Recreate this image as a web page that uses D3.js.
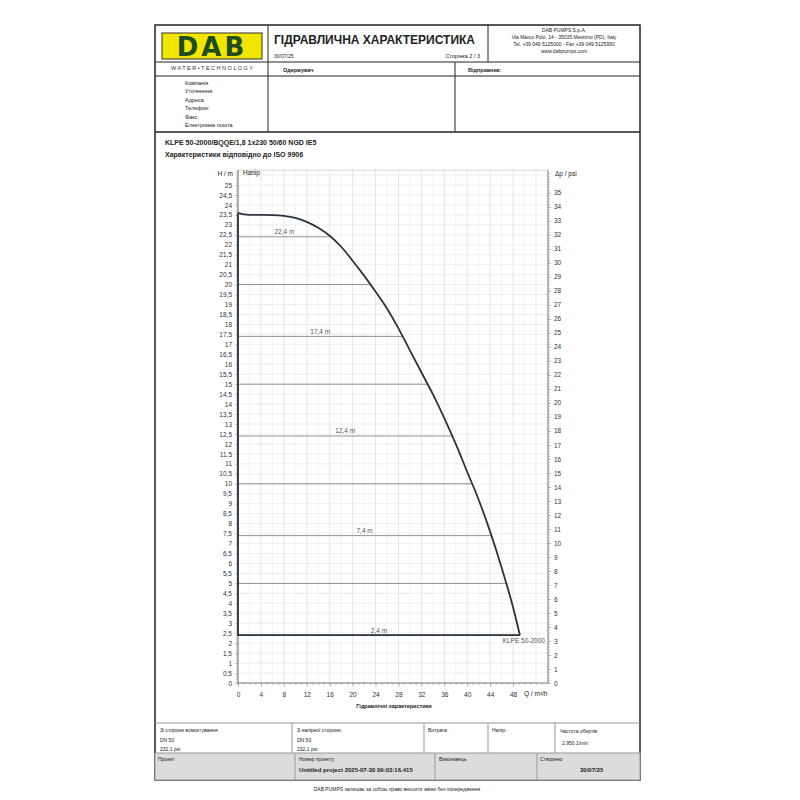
<!DOCTYPE html>
<html><head><meta charset="utf-8">
<script src="https://cdn.jsdelivr.net/npm/d3@7"></script>
<style>body{margin:0;background:#fff;font-family:'Liberation Sans',Arial,sans-serif}</style>
</head><body>
<script>
// curve: flow Q (m3/h) vs head H (m)
const curveQ = [0, 1, 2, 4, 6, 8, 10, 12, 14, 16, 18, 20, 22, 24, 26, 28, 30, 32, 34, 36, 38, 40, 42, 44, 46, 48, 49.2];
const curveH = [23.6, 23.52, 23.5, 23.5, 23.49, 23.45, 23.35, 23.15, 22.85, 22.45, 21.9, 21.2, 20.45, 19.65, 18.8, 17.8, 16.7, 15.6, 14.5, 13.3, 12.0, 10.6, 9.2, 7.6, 5.8, 3.8, 2.4];
const levelH = [22.4, 20, 17.4, 15, 12.4, 10, 7.4, 5, 2.4];
const levelQ = [16.2, 23.1, 28.7, 33.1, 37.4, 40.9, 44.2, 46.8, 49.2];
const levelLabel = ['22,4 m', '', '17,4 m', '', '12,4 m', '', '7,4 m', '', '2,4 m'];
const qTicks = d3.range(0, 49, 4);
const hTicks = d3.range(0, 25.01, 0.5);
const psiTicks = d3.range(0, 36, 1);

const svg = d3.select('body').append('svg').attr('width', 800).attr('height', 800);
const fmt = (v) => String(v).replace('.', ',');

// outer frame
const ink = '#222';
svg.append('rect').attr('x', 155).attr('y', 25).attr('width', 485).attr('height', 755)
  .attr('fill', 'none').attr('stroke', ink).attr('stroke-width', 1.5);
const line = (x1, y1, x2, y2, c = ink, w = 1) =>
  svg.append('line').attr('x1', x1).attr('y1', y1).attr('x2', x2).attr('y2', y2).attr('stroke', c).attr('stroke-width', w);
const text = (x, y, t, size = 6, opts = {}) =>
  svg.append('text').attr('x', x).attr('y', y).attr('font-size', size)
    .attr('font-weight', opts.bold ? 'bold' : null).attr('text-anchor', opts.anchor || 'start')
    .attr('fill', opts.fill || '#222').text(t);

// header
line(155, 62, 640, 62); line(155, 76, 640, 76); line(155, 132, 640, 132, ink, 1.5);
line(268, 25, 268, 132); line(488, 25, 488, 62); line(455, 62, 455, 132);
svg.append('rect').attr('x', 162).attr('y', 33).attr('width', 100).attr('height', 26).attr('fill', '#f2e600').attr('stroke', '#333');
text(212, 56, 'DAB', 26, { bold: true, anchor: 'middle', fill: '#1b4d1e' }).attr('font-family', 'DejaVu Sans').attr('letter-spacing', 3);
text(212, 70, 'W A T E R • T E C H N O L O G Y', 5.5, { anchor: 'middle', fill: '#333' });
text(274, 44, 'ГІДРАВЛИЧНА ХАРАКТЕРИСТИКА', 12, { bold: true });
text(274, 58, '30/07/25', 5);
text(480, 58, 'Сторінка 2 / 3', 5.5, { anchor: 'end' });
[['DAB PUMPS S.p.A.', 32], ['Via Marco Polo, 14 - 35035 Mestrino (PD), Italy', 39],
 ['Tel. +39 049 5125000 - Fax +39 049 5125950', 46], ['www.dabpumps.com', 53]]
  .forEach(([t, y]) => text(564, y, t, 5, { anchor: 'middle' }));
text(283, 72, 'Одержувач', 5.5, { bold: true });
text(468, 72, 'Відправник:', 5.5, { bold: true });
['Компанія', 'Уточнення:', 'Адреса', 'Телефон:', 'Факс', 'Електронна пошта']
  .forEach((t, i) => text(185, 85 + i * 8.4, t, 5.5));
text(165, 145, 'KLPE 50-2000/BQQE/1,8 1x230 50/60 NGD IE5', 7, { bold: true });
text(165, 157, 'Характеристики відповідно до ISO 9906', 7, { bold: true });

// chart
const x = d3.scaleLinear().domain([0, 54.1]).range([238, 548]);
const y = d3.scaleLinear().domain([0, 25]).range([683, 185]);
const yPsi = d3.scaleLinear().domain([0, 25 * 1.4223]).range([683, 185]);
const plotTop = y(25.75);

const grid = svg.append('g');
d3.range(0, 54.1, 2).forEach((q) =>
  grid.append('line').attr('x1', x(q)).attr('x2', x(q)).attr('y1', plotTop).attr('y2', 683)
    .attr('stroke', q % 4 === 0 ? '#d6d6d6' : '#ebebeb').attr('stroke-width', 0.6));
d3.range(0, 25.76, 0.5).forEach((h) =>
  grid.append('line').attr('x1', 238).attr('x2', 548).attr('y1', y(h)).attr('y2', y(h))
    .attr('stroke', '#e2e2e2').attr('stroke-width', 0.6));
svg.append('rect').attr('x', 238).attr('y', plotTop).attr('width', 310).attr('height', 683 - plotTop)
  .attr('fill', 'none').attr('stroke', '#bbb').attr('stroke-width', 0.6);

const axL = svg.append('g').attr('transform', 'translate(238,0)')
  .call(d3.axisLeft(y).tickValues(hTicks).tickSize(3).tickFormat(fmt));
const minorL = svg.append('g').attr('transform', 'translate(238,0)')
  .call(d3.axisLeft(y).tickValues(d3.range(0, 25.75, 0.1)).tickSize(2).tickFormat(''));
const axR = svg.append('g').attr('transform', 'translate(548,0)')
  .call(d3.axisRight(yPsi).tickValues(psiTicks).tickSize(3));
const minorR = svg.append('g').attr('transform', 'translate(548,0)')
  .call(d3.axisRight(yPsi).tickValues(d3.range(0, 36.6, 0.2)).tickSize(2).tickFormat(''));
const axB = svg.append('g').attr('transform', 'translate(0,683)')
  .call(d3.axisBottom(x).tickValues(qTicks).tickSize(4));
const minorB = svg.append('g').attr('transform', 'translate(0,683)')
  .call(d3.axisBottom(x).tickValues(d3.range(0, 54, 1)).tickSize(2).tickFormat(''));
[axL, minorL, axR, minorR, axB, minorB].forEach((g) => {
  g.select('.domain').remove();
  g.selectAll('line').attr('stroke', '#888').attr('stroke-width', 0.5);
  g.selectAll('text').attr('font-size', 6.5).attr('fill', '#333').attr('font-family', 'Liberation Sans');
});
axB.selectAll('text').attr('dy', '1.1em');
line(238, plotTop, 238, 683, '#777', 0.8);
line(548, plotTop, 548, 683, '#777', 0.8);
line(238, 683, 548, 683, '#777', 0.8);

text(233, 176, 'H / m', 6.5, { anchor: 'end' });
text(243, 175, 'Напір', 6.5);
text(555, 176, 'Δp / psi', 6.5);
text(524, 696, 'Q / m³/h', 6.5);
text(394, 708, 'Гідравлічні характеристики', 5.5, { bold: true, anchor: 'middle' });

// level lines
levelH.forEach((h, i) => {
  line(x(0), y(h), x(levelQ[i]), y(h), '#777', 0.8);
  if (levelLabel[i]) text(x(levelQ[i] / 2), y(h) - 2.5, levelLabel[i], 6.5, { anchor: 'middle', fill: '#555' });
});

const pts = curveQ.map((q, i) => [q, curveH[i]]);
svg.append('path').datum(pts)
  .attr('d', d3.line().x((d) => x(d[0])).y((d) => y(d[1])).curve(d3.curveMonotoneX))
  .attr('fill', 'none').attr('stroke', '#2c3440').attr('stroke-width', 1.8);
const last = pts[pts.length - 1];
svg.append('path').datum([[0, curveH[0]], [0, last[1]], last])
  .attr('d', d3.line().x((d) => x(d[0])).y((d) => y(d[1])))
  .attr('fill', 'none').attr('stroke', '#2c3440').attr('stroke-width', 1.8);
text(x(last[0]) + 25, y(last[1]) + 8, 'KLPE 50-2000', 6.5, { anchor: 'end', fill: '#555' });

// bottom table
line(155, 723, 640, 723, '#999');
svg.append('rect').attr('x', 155).attr('y', 753).attr('width', 485).attr('height', 27)
  .attr('fill', '#dcdcdc').attr('stroke', '#999');
[292, 424, 488, 555].forEach((v) => line(v, 723, v, 753, '#999'));
[295, 435, 537].forEach((v) => line(v, 753, v, 780, '#999'));
text(160, 732, 'Зі сторони всмоктування:', 5);
text(160, 742, 'DN 50', 5); text(160, 751, '232,1 psi', 5);
text(297, 732, 'З напірної сторони:', 5);
text(297, 742, 'DN 50', 5); text(297, 751, '232,1 psi', 5);
text(428, 732, 'Витрата:', 5); text(492, 732, 'Напір:', 5);
text(560, 733, 'Частота обертів:', 5); text(562, 745, '2.950 1/min', 5);
text(158, 761, 'Проект', 5); text(299, 761, 'Номер проекту', 5);
text(299, 772, 'Untitled project 2025-07-30 09:03:16.415', 6, { bold: true });
text(439, 761, 'Виконавець', 5); text(540, 761, 'Створено', 5);
text(580, 772, '30/07/25', 6, { bold: true });
text(397, 791, 'DAB PUMPS залишає за собою право вносити зміни без попередження', 5, { anchor: 'middle' });
</script>
</body></html>
